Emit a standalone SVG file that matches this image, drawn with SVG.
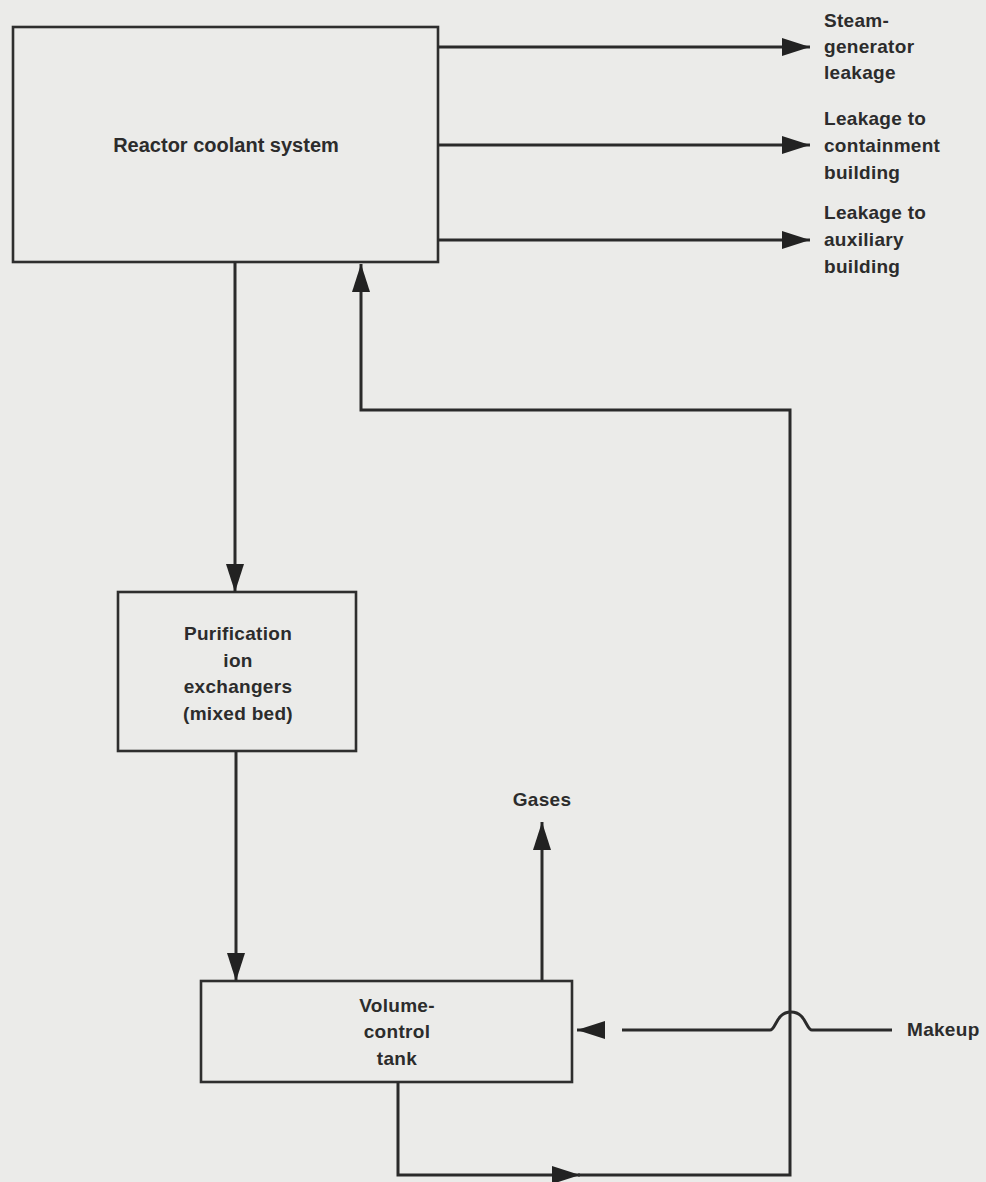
<svg xmlns="http://www.w3.org/2000/svg" width="986" height="1182" viewBox="0 0 986 1182">
  <style>
    .bg { fill: #ebebe9; }
    .box { fill: none; stroke: #2e2e2e; stroke-width: 2.6; }
    .wire { fill: none; stroke: #2a2a2a; stroke-width: 3; stroke-linejoin: miter; }
    .lbl { font-family: "Liberation Sans", Arial, sans-serif; font-weight: bold; font-size: 19px; letter-spacing: 0.3px; fill: #2c2c2c; }
    .big { font-size: 20px; letter-spacing: 0; }
    .mid { text-anchor: middle; }
  </style>
  <defs>
    <marker id="arrow" markerUnits="userSpaceOnUse" markerWidth="30" markerHeight="20" refX="28" refY="9" orient="auto">
      <path d="M0,0 L28,9 L0,18 Z" fill="#222"/>
    </marker>
  </defs>
  <rect class="bg" x="0" y="0" width="986" height="1182"/>

  <g id="reactor-coolant-system">
    <rect class="box" x="13" y="27" width="425" height="235"/>
    <text class="lbl big mid" x="226" y="152">Reactor coolant system</text>
  </g>

  <g id="purification-ion-exchangers">
    <rect class="box" x="118" y="592" width="238" height="159"/>
    <text class="lbl mid" x="238" y="640">Purification</text>
    <text class="lbl mid" x="238" y="667">ion</text>
    <text class="lbl mid" x="238" y="693">exchangers</text>
    <text class="lbl mid" x="238" y="720">(mixed bed)</text>
  </g>

  <g id="volume-control-tank">
    <rect class="box" x="201" y="981" width="371" height="101"/>
    <text class="lbl mid" x="397" y="1012">Volume-</text>
    <text class="lbl mid" x="397" y="1038">control</text>
    <text class="lbl mid" x="397" y="1065">tank</text>
  </g>

  <g id="connectors">
    <path class="wire" d="M438 47 H810" marker-end="url(#arrow)"/>
    <path class="wire" d="M438 145 H810" marker-end="url(#arrow)"/>
    <path class="wire" d="M438 240 H810" marker-end="url(#arrow)"/>
    <path class="wire" d="M235 262 V592" marker-end="url(#arrow)"/>
    <path class="wire" d="M236 751 V981" marker-end="url(#arrow)"/>
    <path class="wire" d="M542 981 V822" marker-end="url(#arrow)"/>
    <path class="wire" d="M398 1082 V1175 H580" marker-end="url(#arrow)"/>
    <path class="wire" d="M578 1175 H790 V410 H361 V264" marker-end="url(#arrow)"/>
    <path class="wire" d="M892 1030 H812 C806 1030 806 1012 791 1012 C776 1012 776 1030 770 1030 H622"/>
    <path class="wire" d="M605 1030 H577" marker-end="url(#arrow)"/>
  </g>

  <g id="endpoint-labels">
    <text class="lbl" x="824" y="27">Steam-</text>
    <text class="lbl" x="824" y="53">generator</text>
    <text class="lbl" x="824" y="79">leakage</text>
    <text class="lbl" x="824" y="125">Leakage to</text>
    <text class="lbl" x="824" y="152">containment</text>
    <text class="lbl" x="824" y="179">building</text>
    <text class="lbl" x="824" y="219">Leakage to</text>
    <text class="lbl" x="824" y="246">auxiliary</text>
    <text class="lbl" x="824" y="273">building</text>
    <text class="lbl mid" x="542" y="806">Gases</text>
    <text class="lbl" x="907" y="1036">Makeup</text>
  </g>
</svg>
